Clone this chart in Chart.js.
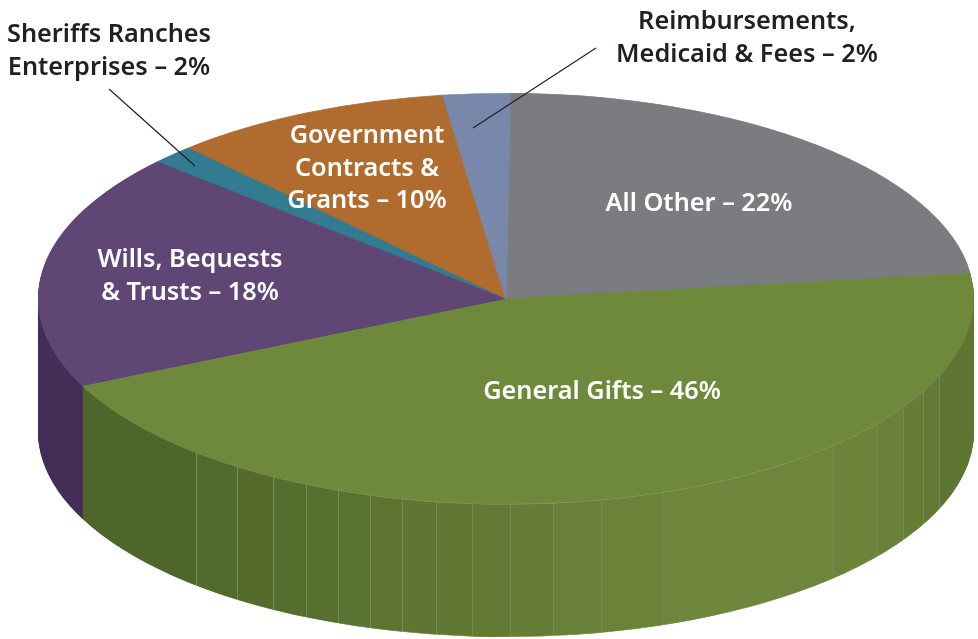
<!DOCTYPE html>
<html>
<head>
<meta charset="utf-8">
<title>Revenue sources</title>
<script src="https://cdn.jsdelivr.net/npm/chart.js@4"></script>
<style>
  html, body { margin: 0; padding: 0; background: #fff; }
  canvas { display: block; }
</style>
</head>
<body>
<canvas id="pie" width="978" height="639"></canvas>
<script>
const categories = ['All Other', 'General Gifts', 'Wills, Bequests & Trusts', 'Sheriffs Ranches Enterprises', 'Government Contracts & Grants', 'Reimbursements, Medicaid & Fees'];
// slice sizes as drawn in the picture, they are a little off the printed percentages in labelLines
const drawnShares = [22.9, 45, 18.6, 1.5, 9.7, 2.3];
const labelLines = [
  ['All Other – 22%'],
  ['General Gifts – 46%'],
  ['Wills, Bequests', '& Trusts – 18%'],
  ['Sheriffs Ranches', 'Enterprises – 2%'],
  ['Government', 'Contracts &', 'Grants – 10%'],
  ['Reimbursements,', 'Medicaid & Fees – 2%']
];

const topColors = ['#7b7c80', '#6f893c', '#5f4675', '#327b90', '#b06c2e', '#7788ab'];
const wallColors = ['#5f6063', '#5e7631', '#452f58', '#245a6a', '#814f22', '#57647e'];

// where the squashed pie sits on the page
const CX = 506, CY = 298.5, RX = 467.3, RY = 205.2, DEPTH = 133;

// label placement: centre x, first baseline, colour
const labelSpots = [
  [699, 211, '#fff'],
  [602, 399, '#fff'],
  [190, 267, '#fff'],
  [109, 42, '#231f20'],
  [367, 143, '#fff'],
  [747, 29, '#231f20']
];
const leaders = [
  [109, 89, 195, 166],
  [596, 48, 473, 128]
];

// facets on the green wall: right edge in px and colour
const facetEdges = [197, 238, 274, 307, 339, 371, 403, 437, 473, 511, 554, 602, 663, 834, 878, 904, 924, 940, 974];
const facetColors = ['#4f662a', '#526a2b', '#546b2c', '#566e2d', '#58702e', '#5a722f', '#5c7430', '#5e7631', '#607832', '#627a33',
  '#667d37', '#688038', '#6b8239', '#6e863b', '#6c843a', '#698138', '#667d36', '#627a33', '#5e7631'];

const toLocal = (arc, px, sx) => arc.x + (px - CX) / sx;

function greenWallFill(ctx, arc, sx) {
  const left = 82, right = 974;
  const g = ctx.createLinearGradient(toLocal(arc, left, sx), 0, toLocal(arc, right, sx), 0);
  const at = px => (px - left) / (right - left);
  let from = left;
  facetEdges.forEach((edge, i) => {
    g.addColorStop(at(from), facetColors[i]);
    g.addColorStop(at(edge - 1), facetColors[i]);
    if (i < facetEdges.length - 1) {
      g.addColorStop(at(edge - 1), '#76895a');
      g.addColorStop(at(edge), '#76895a');
    }
    from = edge;
  });
  return g;
}

const squashPlugin = {
  id: 'squash',
  beforeDatasetsDraw(chart) {
    const ctx = chart.ctx;
    const arcs = chart.getDatasetMeta(0).data;
    const sx = RX / arcs[0].outerRadius;
    const sy = RY / arcs[0].outerRadius;
    ctx.save();
    ctx.translate(CX, CY);
    ctx.scale(sx, sy);
    ctx.translate(-arcs[0].x, -arcs[0].y);

    const walls = arcs.map((arc, i) => {
      const fill = i === 1 ? greenWallFill(ctx, arc, sx) : wallColors[i];
      const wall = Object.create(arc);
      wall.options = { ...arc.options, backgroundColor: fill, borderColor: fill };
      return wall;
    });
    for (let d = DEPTH; d >= 1; d--) {
      ctx.save();
      ctx.translate(0, d / sy);
      walls.forEach(w => w.draw(ctx));
      ctx.restore();
    }

    // thin pale rim under the top face
    const rimColor = 'rgba(255,255,255,0.28)';
    ctx.save();
    ctx.translate(0, 0.8 / sy);
    arcs.forEach(arc => {
      const rim = Object.create(arc);
      rim.options = { ...arc.options, backgroundColor: rimColor, borderWidth: 0 };
      rim.draw(ctx);
    });
    ctx.restore();
  },
  afterDatasetsDraw(chart) {
    const ctx = chart.ctx;
    ctx.restore();

    ctx.strokeStyle = '#231f20';
    ctx.lineWidth = 1.2;
    leaders.forEach(l => {
      ctx.beginPath();
      ctx.moveTo(l[0], l[1]);
      ctx.lineTo(l[2], l[3]);
      ctx.stroke();
    });

    ctx.font = '600 25.3px "Noto Sans"';
    ctx.textAlign = 'center';
    ctx.textBaseline = 'alphabetic';
    labelLines.forEach((lines, i) => {
      const [x, y, color] = labelSpots[i];
      ctx.fillStyle = color;
      lines.forEach((line, n) => ctx.fillText(line, x, y + n * 32.5));
    });
  }
};

new Chart(document.getElementById('pie'), {
  type: 'pie',
  data: {
    labels: categories,
    datasets: [{
      data: drawnShares,
      backgroundColor: topColors,
      borderColor: topColors,
      borderWidth: 1,
      clip: false
    }]
  },
  options: {
    responsive: false,
    animation: false,
    rotation: 0.5,
    layout: { padding: 0 },
    plugins: {
      legend: { display: false },
      tooltip: { enabled: false }
    }
  },
  plugins: [squashPlugin]
});
</script>
</body>
</html>
